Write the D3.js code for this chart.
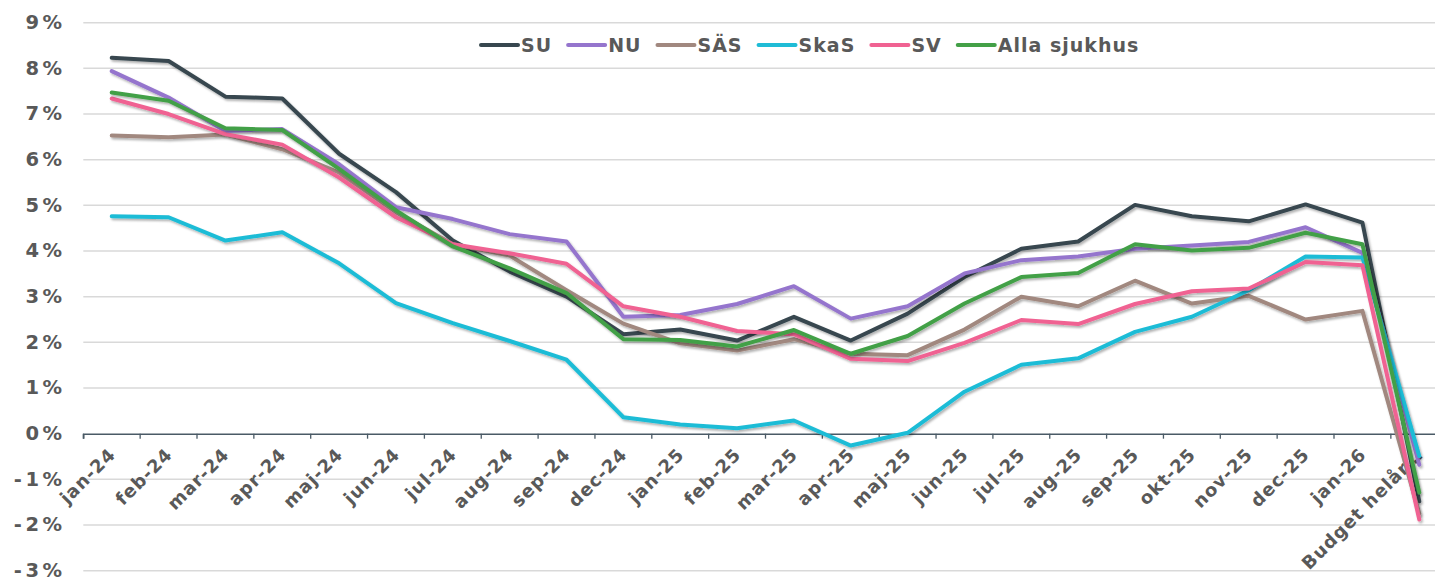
<!DOCTYPE html>
<html>
<head>
<meta charset="utf-8">
<title></title>
<style>
  body { margin: 0; background: #fff; }
  svg { display: block; }
  text { font-family: "DejaVu Sans", Verdana, sans-serif; font-weight: bold; fill: #595959; }
</style>
</head>
<body>
<script src="https://cdnjs.cloudflare.com/ajax/libs/d3/7.8.5/d3.min.js"></script>
<script>
var categories = ["jan-24", "feb-24", "mar-24", "apr-24", "maj-24", "jun-24", "jul-24", "aug-24", "sep-24",
                  "dec-24", "jan-25", "feb-25", "mar-25", "apr-25", "maj-25", "jun-25", "jul-25", "aug-25",
                  "sep-25", "okt-25", "nov-25", "dec-25", "jan-26", "Budget helår…"];

var SU   = [8.23, 8.16, 7.38, 7.34, 6.13, 5.29, 4.23, 3.55, 3.00, 2.18, 2.28, 2.04, 2.56, 2.04, 2.63, 3.43, 4.05, 4.21, 5.01, 4.76, 4.65, 5.02, 4.62, -1.48];
var NU   = [7.94, 7.36, 6.63, 6.67, 5.90, 4.96, 4.70, 4.37, 4.21, 2.56, 2.60, 2.84, 3.23, 2.52, 2.79, 3.51, 3.80, 3.88, 4.05, 4.12, 4.20, 4.52, 3.96, -0.68];
var SAS  = [6.53, 6.49, 6.55, 6.23, 5.72, 4.85, 4.15, 3.90, 3.14, 2.41, 1.98, 1.82, 2.07, 1.75, 1.72, 2.28, 3.00, 2.79, 3.35, 2.85, 3.02, 2.50, 2.69, -1.75];
var SkaS = [4.76, 4.74, 4.23, 4.41, 3.73, 2.86, 2.42, 2.03, 1.62, 0.36, 0.20, 0.12, 0.29, -0.26, 0.02, 0.92, 1.51, 1.65, 2.23, 2.56, 3.14, 3.88, 3.86, -0.49];
var SV   = [7.34, 7.00, 6.56, 6.33, 5.61, 4.74, 4.15, 3.95, 3.72, 2.79, 2.56, 2.25, 2.18, 1.64, 1.59, 1.99, 2.49, 2.40, 2.84, 3.12, 3.18, 3.76, 3.69, -1.88];
var Alla = [7.47, 7.29, 6.69, 6.65, 5.80, 4.89, 4.10, 3.62, 3.08, 2.07, 2.05, 1.91, 2.27, 1.75, 2.14, 2.85, 3.43, 3.52, 4.15, 4.01, 4.07, 4.40, 4.15, -1.29];

var seriesNames  = ["SU", "NU", "SÄS", "SkaS", "SV", "Alla sjukhus"];
var seriesValues = [SU, NU, SAS, SkaS, SV, Alla];
var seriesColors = ["#37474f", "#9575cd", "#a1887f", "#1fbcd6", "#f06292", "#43a047"];

var yTicks = [-3, -2, -1, 0, 1, 2, 3, 4, 5, 6, 7, 8, 9];

var w = 1435, h = 580;

var svg = d3.select("body").append("svg")
    .attr("width", w)
    .attr("height", h);

var defs = svg.append("defs");
var f = defs.append("filter").attr("id", "shadow")
    .attr("x", "-5%").attr("y", "-5%").attr("width", "110%").attr("height", "110%");
f.append("feDropShadow")
    .attr("dx", 1.5).attr("dy", 2)
    .attr("stdDeviation", 1.3)
    .attr("flood-color", "#000")
    .attr("flood-opacity", 0.3);

var xScale = d3.scaleBand()
    .domain(categories)
    .range([83.3, 83.3 + 24 * 56.85]);

var yScale = d3.scaleLinear()
    .domain([-3, 9])
    .range([570.7, 22.7]);

// gridlines
svg.append("g")
    .selectAll("line")
    .data(yTicks.filter(function(d) { return d !== 0; }))
    .enter()
    .append("line")
    .attr("x1", 83.3)
    .attr("x2", w)
    .attr("y1", function(d) { return yScale(d); })
    .attr("y2", function(d) { return yScale(d); })
    .attr("stroke", "#d9d9d9")
    .attr("stroke-width", 1.5);

// y labels
var yAxis = d3.axisLeft(yScale)
    .tickValues(yTicks)
    .tickSize(0)
    .tickPadding(0)
    .tickFormat(function(d) { return d + "%"; });

var yg = svg.append("g")
    .attr("transform", "translate(65.5,0)")
    .call(yAxis);
yg.select(".domain").remove();
yg.selectAll("text")
    .attr("font-size", "19.5px")
    .attr("font-family", null)
    .attr("dy", "0.3em")
    .style("letter-spacing", "3.5px")
    .style("fill", "#595959");

// x axis at 0%
var xAxis = d3.axisBottom(xScale)
    .tickSize(5)
    .tickSizeOuter(5)
    .tickFormat("");

var xg = svg.append("g")
    .attr("transform", "translate(0," + yScale(0) + ")")
    .call(xAxis);
xg.select(".domain").attr("stroke", "#4a5a66").attr("stroke-width", 1.5);
xg.selectAll(".tick line")
    .attr("stroke", "#4a5a66")
    .attr("stroke-width", 1.3)
    .attr("transform", "translate(" + (-xScale.bandwidth() / 2) + ",0)");

svg.append("g")
    .selectAll("text")
    .data(categories)
    .enter()
    .append("text")
    .text(function(d) { return d; })
    .attr("text-anchor", "end")
    .attr("font-size", "18px")
    .style("letter-spacing", "1px")
    .attr("transform", function(d) {
        var cx = xScale(d) + xScale.bandwidth() / 2;
        return "translate(" + (cx + 5) + "," + (yScale(0) + 22) + ") rotate(-45)";
    });

// lines
var line = d3.line()
    .x(function(d, i) { return xScale(categories[i]) + xScale.bandwidth() / 2; })
    .y(function(d) { return yScale(d); });

svg.append("g")
    .selectAll("path")
    .data(seriesValues)
    .enter()
    .append("path")
    .attr("d", line)
    .attr("fill", "none")
    .attr("stroke", function(d, i) { return seriesColors[i]; })
    .attr("stroke-width", 4)
    .attr("stroke-linejoin", "round")
    .attr("stroke-linecap", "round")
    .attr("filter", "url(#shadow)");

// legend
var legend = svg.append("g").attr("transform", "translate(481,45)");
var lx = 0;
seriesNames.forEach(function(name, i) {
    var item = legend.append("g").attr("transform", "translate(" + lx + ",0)");
    item.append("line")
        .attr("x1", 0).attr("x2", 37)
        .attr("y1", 0).attr("y2", 0)
        .attr("stroke", seriesColors[i])
        .attr("stroke-width", 4)
        .attr("stroke-linecap", "round");
    var t = item.append("text")
        .attr("x", 40)
        .attr("y", 7)
        .attr("font-size", "19px")
        .style("letter-spacing", "1px")
        .text(name);
    lx += 40 + t.node().getComputedTextLength() + 16;
});
</script>
</body>
</html>
